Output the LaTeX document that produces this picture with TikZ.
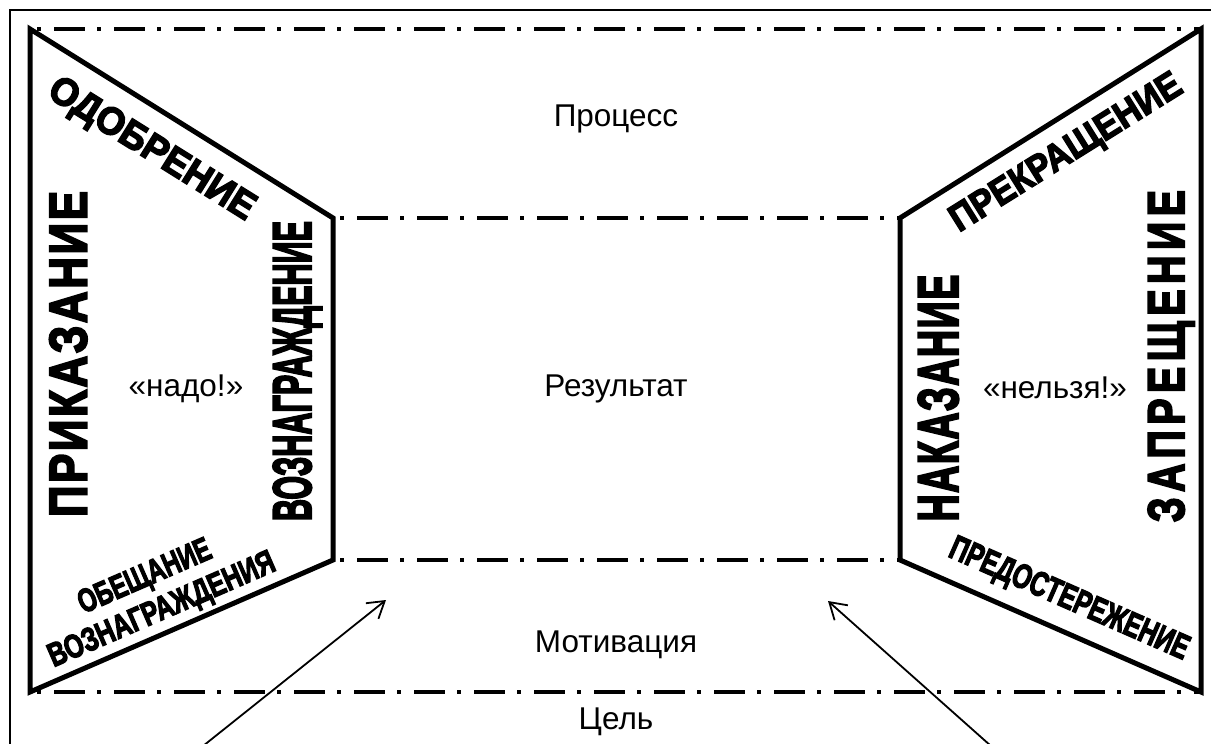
\documentclass[tikz,border=0pt]{standalone}
\usepackage{fontspec}
\setmainfont{Liberation Sans}
\newfontfamily\heavyfont{Liberation Sans}[BoldFeatures={FakeBold=4}]
\usetikzlibrary{arrows.meta}

% heavy caption scaled to a given length (#1) and cap height (#2), letter spacing #3
\newcommand{\heavytext}[4]{%
  \raisebox{0pt}[\height][0pt]{\resizebox{#1pt}{#2pt}{\heavyfont\bfseries\addfontfeature{LetterSpace=#3}#4}}}

\tikzset{
  frame/.style={line width=1.6pt},
  wall/.style={line width=5pt, line join=miter},
  axisline/.style={line width=4pt, dash pattern=on 31pt off 12pt on 4pt off 13pt, dash phase=36pt},
  pointer/.style={line width=1.8pt, -{Straight Barb[length=16pt,width=20pt,line width=1.8pt]}},
  caption/.style={font=\fontsize{31.5}{36}\selectfont, inner sep=0pt, anchor=base},
  heavy/.style={inner sep=0pt}
}

\begin{document}
\begin{tikzpicture}[x=1pt,y=-1pt]
\useasboundingbox (0,0) rectangle (1211,744);
\clip (0,0) rectangle (1211,744);

% corners of the room
\coordinate (TL) at (30,29);
\coordinate (TR) at (1201,29);
\coordinate (BL) at (30,692);
\coordinate (BR) at (1201,692);
\coordinate (ITL) at (333,218);
\coordinate (ITR) at (900,218);
\coordinate (IBL) at (333,560);
\coordinate (IBR) at (900,560);

% outer frame
\draw[frame] (10,760) -- (10,10) -- (1215,10);

% dash-dot levels
\draw[axisline] (TL) -- (TR);
\draw[axisline] (BL) -- (BR);
\draw[axisline] (ITL) -- (ITR);
\draw[axisline] (IBL) -- (IBR);

% side walls
\draw[wall] (ITL) -- (TL) -- (BL) -- (IBL) -- cycle;
\draw[wall] (ITR) -- (TR) -- (BR) -- (IBR) -- cycle;

% plain captions
\node[caption] (process) at (616,126) {Процесс};
\node[caption] (result) at (616,396) {Результат};
\node[caption] (motiv) at (616,652) {Мотивация};
\node[caption] (goal) at (616,729) {Цель};
\node[caption] (must) at (186,396) {«надо!»};
\node[caption] (mustnot) at (1055,398) {«нельзя!»};

% left wall words
\node[heavy, rotate=-32] (approval) at (153,147) {\heavytext{236}{27}{0}{ОДОБРЕНИЕ}};
\node[heavy, rotate=90] (order) at (68,354) {\heavytext{326}{37}{6}{ПРИКАЗАНИЕ}};
\node[heavy, rotate=90] (reward) at (292,371) {\heavytext{300}{38}{0}{ВОЗНАГРАЖДЕНИЕ}};
\node[heavy, rotate=23.5] (promise) at (144,575) {\heavytext{142}{23}{0}{ОБЕЩАНИЕ}};
\node[heavy, rotate=23.5] (promise2) at (161,608) {\heavytext{244}{23}{0}{ВОЗНАГРАЖДЕНИЯ}};

% right wall words
\node[heavy, rotate=32] (stop) at (1065,151) {\heavytext{266}{26}{0}{ПРЕКРАЩЕНИЕ}};
\node[heavy, rotate=90] (punish) at (938,398) {\heavytext{247}{40}{4}{НАКАЗАНИЕ}};
\node[heavy, rotate=90] (forbid) at (1166,356) {\heavytext{332}{36}{14}{ЗАПРЕЩЕНИЕ}};
\node[heavy, rotate=-23.7] (warning) at (1070,597) {\heavytext{258}{24}{0}{ПРЕДОСТЕРЕЖЕНИЕ}};

% arrows
\coordinate (lt) at (203,746);
\coordinate (lh) at (386,600);
\coordinate (rt) at (991,746);
\coordinate (rh) at (828,601);
\draw[pointer] (lt) -- (lh);
\draw[pointer] (rt) -- (rh);
\end{tikzpicture}
\end{document}
